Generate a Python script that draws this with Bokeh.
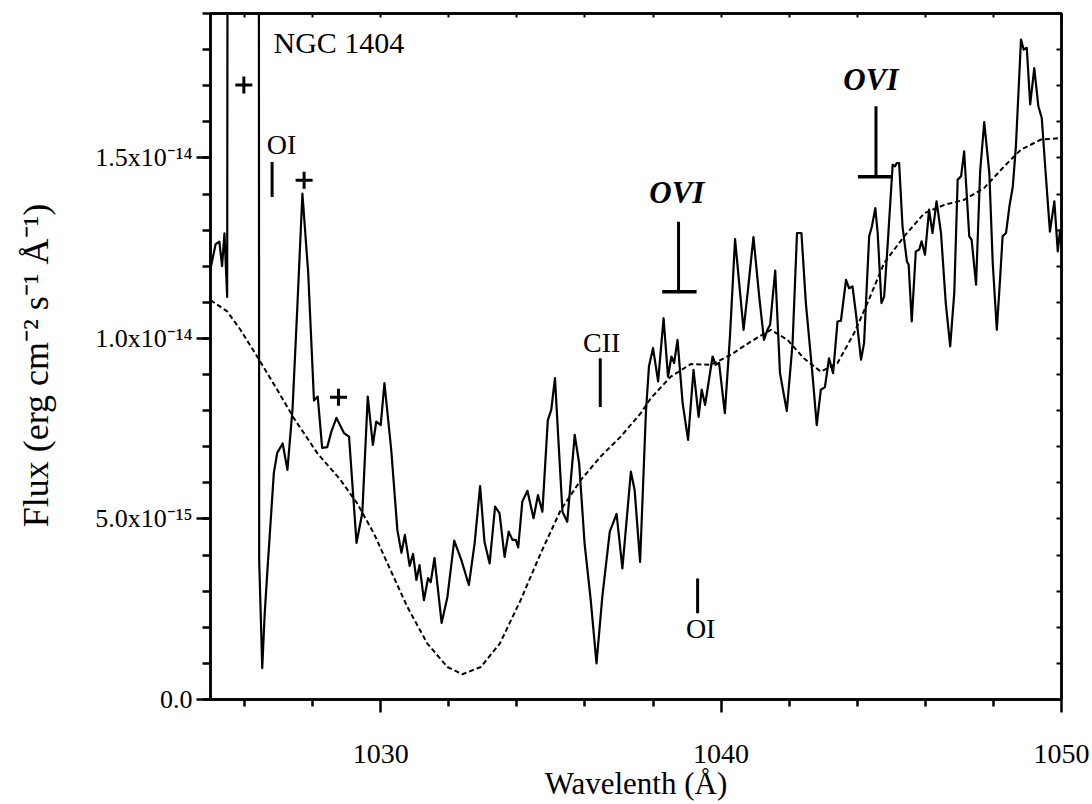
from bokeh.plotting import figure
from bokeh.models import Range1d, LinearAxis, FixedTicker, Label, CustomJSTickFormatter
from bokeh.embed import file_html
from bokeh.resources import INLINE

UNIT = 1e-15  # flux values below are in units of 1e-15 erg cm^-2 s^-1 A^-1

# Observed spectrum of NGC 1404 (wavelength in Angstrom, flux in 1e-15)
wavelength = [
    1025.00, 1025.15, 1025.26, 1025.34, 1025.41, 1025.49, 1025.54, 1026.40, 1026.43, 1026.52,
    1026.59, 1026.67, 1026.86, 1026.96, 1027.12, 1027.26, 1027.41, 1027.55, 1027.70, 1027.87,
    1028.04, 1028.15, 1028.28, 1028.43, 1028.55, 1028.70, 1028.92, 1029.07, 1029.29, 1029.46,
    1029.62, 1029.77, 1029.87, 1030.00, 1030.11, 1030.31, 1030.49, 1030.61, 1030.71, 1030.85,
    1030.95, 1031.05, 1031.14, 1031.27, 1031.39, 1031.47, 1031.58, 1031.79, 1031.96, 1032.16,
    1032.37, 1032.59, 1032.76, 1032.92, 1033.05, 1033.20, 1033.36, 1033.49, 1033.64, 1033.76,
    1033.87, 1033.97, 1034.04, 1034.16, 1034.31, 1034.49, 1034.62, 1034.75, 1034.91, 1035.01,
    1035.12, 1035.22, 1035.34, 1035.48, 1035.70, 1035.83, 1035.99, 1036.17, 1036.34, 1036.51,
    1036.73, 1036.93, 1037.10, 1037.35, 1037.46, 1037.62, 1037.79, 1037.88, 1038.00, 1038.15,
    1038.31, 1038.44, 1038.54, 1038.62, 1038.72, 1038.87, 1039.03, 1039.19, 1039.34, 1039.43,
    1039.53, 1039.75, 1039.84, 1039.94, 1040.11, 1040.26, 1040.41, 1040.66, 1040.79, 1040.95,
    1041.12, 1041.26, 1041.36, 1041.44, 1041.59, 1041.73, 1041.93, 1042.10, 1042.23, 1042.36,
    1042.49, 1042.69, 1042.81, 1042.93, 1043.05, 1043.17, 1043.29, 1043.42, 1043.52, 1043.67,
    1043.76, 1043.86, 1043.96, 1044.11, 1044.20, 1044.35, 1044.43, 1044.53, 1044.60, 1044.71,
    1044.79, 1044.89, 1045.04, 1045.11, 1045.16, 1045.23, 1045.33, 1045.46, 1045.51, 1045.60,
    1045.72, 1045.82, 1045.89, 1045.99, 1046.11, 1046.21, 1046.33, 1046.46, 1046.60, 1046.73,
    1046.85, 1046.95, 1047.05, 1047.14, 1047.29, 1047.36, 1047.49, 1047.61, 1047.73, 1047.88,
    1047.98, 1048.10, 1048.20, 1048.27, 1048.37, 1048.47, 1048.57, 1048.66, 1048.81, 1048.89,
    1048.98, 1049.08, 1049.20, 1049.32, 1049.42, 1049.52, 1049.66, 1049.79, 1049.89, 1049.96,
    1050.00,
]
flux = [
    11.93, 12.61, 12.68, 12.00, 12.91, 11.15, 60.00, 60.00, 3.86, 0.87,
    2.34, 3.54, 6.27, 6.83, 7.09, 6.36, 8.05, 10.85, 14.01, 11.82,
    8.28, 8.39, 6.97, 6.99, 7.42, 7.80, 7.38, 7.28, 4.34, 5.17,
    8.39, 7.05, 7.70, 7.60, 8.76, 6.91, 4.69, 4.06, 4.56, 3.70,
    4.03, 3.31, 3.72, 2.75, 3.36, 3.25, 3.92, 2.12, 2.84, 4.40,
    3.86, 3.17, 4.33, 5.91, 4.36, 3.77, 5.34, 5.16, 3.95, 4.65,
    4.42, 4.42, 4.21, 5.48, 5.78, 5.02, 5.66, 5.20, 7.74, 8.02,
    8.90, 7.19, 5.20, 4.92, 7.33, 6.54, 4.32, 2.75, 1.00, 2.84,
    4.65, 5.14, 3.63, 6.31, 5.80, 3.81, 7.93, 9.22, 9.73, 8.81,
    10.56, 8.94, 9.50, 9.32, 9.96, 8.21, 7.19, 9.13, 7.83, 8.58,
    8.16, 9.50, 9.27, 9.32, 7.93, 10.05, 12.75, 10.24, 11.35, 12.81,
    11.16, 9.96, 10.24, 10.38, 11.88, 9.04, 7.99, 9.87, 12.92, 12.92,
    10.98, 8.94, 7.60, 8.58, 8.65, 9.45, 9.04, 10.47, 10.49, 11.62,
    11.39, 11.44, 10.70, 9.41, 9.87, 12.83, 13.10, 13.61, 12.92, 10.98,
    11.16, 12.55, 14.81, 14.77, 14.86, 14.86, 13.10, 12.13, 12.04, 10.47,
    12.41, 12.46, 12.69, 12.32, 13.57, 12.92, 13.80, 12.92, 10.98, 9.78,
    11.26, 14.40, 14.49, 15.18, 12.83, 12.73, 11.49, 14.63, 15.99, 14.58,
    12.09, 10.24, 11.72, 12.83, 12.92, 13.66, 14.21, 15.32, 18.28, 18.00,
    18.05, 16.48, 17.49, 16.43, 16.11, 14.77, 12.96, 13.80, 12.41, 13.01,
    12.60,
]

# Model spectrum (dashed)
model_wavelength = [
    1025.00, 1025.49, 1025.88, 1026.37, 1026.96, 1027.45, 1028.14, 1028.82, 1029.31, 1029.80,
    1030.29, 1030.78, 1031.37, 1031.96, 1032.40, 1032.94, 1033.50, 1034.11, 1034.70, 1035.29,
    1035.88, 1036.46, 1037.05, 1037.64, 1037.93, 1038.52, 1039.11, 1039.70, 1040.29, 1040.87,
    1041.46, 1041.95, 1042.43, 1042.93, 1043.42, 1043.91, 1044.30, 1044.79, 1045.38, 1045.97,
    1046.56, 1047.14, 1047.73, 1048.32, 1048.81, 1049.40, 1050.00,
]
model_flux = [
    11.06, 10.75, 10.24, 9.50, 8.58, 7.79, 6.82, 6.08, 5.43, 4.60,
    3.58, 2.57, 1.55, 0.90, 0.70, 0.90, 1.55, 2.75, 4.05, 5.25,
    6.08, 6.73, 7.28, 7.93, 8.34, 8.94, 9.29, 9.27, 9.55, 9.91,
    10.24, 9.96, 9.45, 9.08, 9.32, 10.15, 10.98, 12.09, 12.83, 13.47,
    13.70, 13.84, 14.17, 14.77, 15.23, 15.51, 15.55,
]

# Line identifications
line_ids = ["OI", "CII", "OI"]
line_wl = [1026.81, 1036.45, 1039.31]
line_lo = [13.92, 8.10, 2.39]
line_hi = [14.89, 9.45, 3.35]
line_label_wl = [1026.65, 1036.49, 1039.40]
line_label_flux = [15.37, 9.88, 1.98]
line_label_align = ["left", "center", "center"]

# O VI doublet markers
ovi_wl = [1038.75, 1044.55]
ovi_lo = [11.29, 14.48]
ovi_hi = [13.23, 16.43]
ovi_bar_from = [1038.27, 1044.02]
ovi_bar_to = [1039.28, 1045.04]
ovi_label_wl = [1038.70, 1044.40]
ovi_label_flux = [14.04, 17.17]

# Features marked with "+"
plus_wl = [1025.98, 1027.75, 1028.76]
plus_flux = [17.02, 14.38, 8.37]

# Axis ticks
x_major = [1030, 1040, 1050]
x_minor = [1026, 1028, 1032, 1034, 1036, 1038, 1042, 1044, 1046, 1048]
y_major = [0, 5, 10, 15]
y_major_labels = ["0.0", "5.0x10⁻¹⁵", "1.0x10⁻¹⁴", "1.5x10⁻¹⁴"]
y_minor = list(range(0, 20))

SERIF = "Liberation Serif"

p = figure(width=1092, height=804, output_backend="svg", toolbar_location=None,
           x_range=Range1d(1025, 1050), y_range=Range1d(0, 19 * UNIT),
           min_border_left=210, min_border_right=31, min_border_top=13, min_border_bottom=105)
p.grid.visible = False
p.outline_line_color = "black"
p.outline_line_width = 2.5
p.background_fill_color = "white"
p.border_fill_color = "white"

empty = CustomJSTickFormatter(code="return ''")

# bottom axis
xa = p.xaxis[0]
xa.ticker = FixedTicker(ticks=x_major, minor_ticks=x_minor)
xa.axis_line_width = 2.5
xa.major_tick_line_width = 2.5
xa.minor_tick_line_width = 2.5
xa.major_tick_out = 13
xa.major_tick_in = 0
xa.minor_tick_out = 7
xa.minor_tick_in = 0
xa.major_label_text_font = SERIF
xa.major_label_text_font_size = "28px"
xa.major_label_text_color = "black"
xa.major_label_standoff = 32
xa.axis_label = "Wavelenth (Å)"
xa.axis_label_text_font = SERIF
xa.axis_label_text_font_size = "31px"
xa.axis_label_text_font_style = "normal"
xa.axis_label_text_color = "black"
xa.axis_label_standoff = 0

# left axis
ya = p.yaxis[0]
ya.ticker = FixedTicker(ticks=[v * UNIT for v in y_major], minor_ticks=[v * UNIT for v in y_minor])
ya.formatter = CustomJSTickFormatter(args=dict(labels=y_major_labels), code="return labels[index]")
ya.major_label_text_font = SERIF
ya.major_label_text_font_size = "26px"
ya.major_label_text_color = "black"
ya.major_label_standoff = 4
ya.axis_line_width = 2.5
ya.major_tick_line_width = 2.5
ya.minor_tick_line_width = 2.5
ya.major_tick_out = 14
ya.major_tick_in = 0
ya.minor_tick_out = 8
ya.minor_tick_in = 0
ya.axis_label = "Flux (erg cm⁻²  s⁻¹  Å⁻¹)"
ya.axis_label_text_font = SERIF
ya.axis_label_text_font_size = "36px"
ya.axis_label_text_font_style = "normal"
ya.axis_label_text_color = "black"
ya.axis_label_standoff = 36

# top axis (inward ticks only)
top = LinearAxis(ticker=FixedTicker(ticks=x_major + x_minor, minor_ticks=[]), formatter=empty,
                 major_label_text_font_size="0px", major_label_standoff=0,
                 axis_line_width=2.5, major_tick_line_width=2, major_tick_in=4, major_tick_out=0)
p.add_layout(top, "above")

# right axis (inward ticks only)
right = LinearAxis(ticker=FixedTicker(ticks=[v * UNIT for v in y_minor[1:]], minor_ticks=[]),
                   formatter=empty, major_label_text_font_size="0px", major_label_standoff=0,
                   axis_line_width=2.5, major_tick_line_width=2, major_tick_in=5, major_tick_out=0)
p.add_layout(right, "right")

# spectra
p.line(model_wavelength, [f * UNIT for f in model_flux],
       line_color="black", line_width=2, line_dash="5 3")
p.line(wavelength, [f * UNIT for f in flux], line_color="black", line_width=2.2, line_join="round")

# line identification ticks
p.segment(x0=line_wl, y0=[v * UNIT for v in line_lo], x1=line_wl, y1=[v * UNIT for v in line_hi],
          line_color="black", line_width=3)
for t, xw, yf, al in zip(line_ids, line_label_wl, line_label_flux, line_label_align):
    p.add_layout(Label(x=xw, y=yf * UNIT, text=t, text_font=SERIF, text_font_size="28px",
                       text_align=al, text_baseline="alphabetic", text_color="black"))

# O VI markers
p.segment(x0=ovi_wl, y0=[v * UNIT for v in ovi_lo], x1=ovi_wl, y1=[v * UNIT for v in ovi_hi],
          line_color="black", line_width=3)
p.segment(x0=ovi_bar_from, y0=[v * UNIT for v in ovi_lo], x1=ovi_bar_to, y1=[v * UNIT for v in ovi_lo],
          line_color="black", line_width=3.5)
for xw, yf in zip(ovi_label_wl, ovi_label_flux):
    p.add_layout(Label(x=xw, y=yf * UNIT, text="OVI", text_font=SERIF, text_font_size="31px",
                       text_font_style="bold italic", text_align="center", text_baseline="alphabetic",
                       text_color="black"))

# "+" markers
p.scatter(plus_wl, [v * UNIT for v in plus_flux], marker="cross", size=17, line_width=3,
          line_color="black")

# object name
p.add_layout(Label(x=1026.85, y=18.20 * UNIT, text="NGC 1404", text_font=SERIF,
                   text_font_size="30px", text_align="left", text_baseline="alphabetic",
                   text_color="black"))

open("out.html", "w").write(file_html(p, INLINE))
